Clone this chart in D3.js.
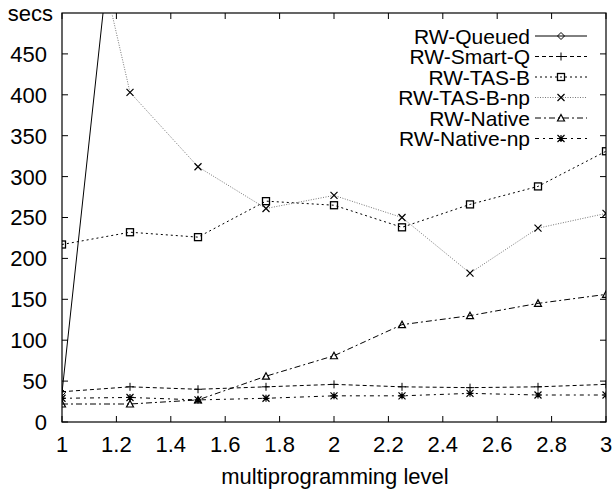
<!DOCTYPE html>
<html lang="en">
<head>
<meta charset="utf-8">
<title>RW locks vs multiprogramming level</title>
<script src="https://d3js.org/d3.v7.min.js"></script>
<style>
body { margin: 0; background: #fff; }
text { font-family: "Liberation Sans", Arial, sans-serif; fill: #000; }
</style>
</head>
<body>
<div id="chart"></div>
<script>

// data (x = multiprogramming level, y = secs)
var levels = [1, 1.25, 1.5, 1.75, 2, 2.25, 2.5, 2.75, 3];
var rwQueued   = [36, 805, null, null, null, null, null, null, null];
var rwSmartQ   = [37, 43, 40, 43, 46, 43, 42, 43, 46];
var rwTasB     = [217, 232, 226, 270, 265, 238, 266, 288, 331];
var rwTasBnp   = [765, 403, 312, 261, 277, 250, 182, 237, 255];
var rwNative   = [22, 22, 27, 56, 81, 119, 130, 145, 156];
var rwNativeNp = [29, 30, 27, 29, 32, 32, 35, 33, 33];

var xTicks = [1, 1.2, 1.4, 1.6, 1.8, 2, 2.2, 2.4, 2.6, 2.8, 3];
var yTicks = [0, 50, 100, 150, 200, 250, 300, 350, 400, 450];

var series = [
  {name: "RW-Queued",    vals: rwQueued,   dash: null,        color: "#000", mark: "diamond"},
  {name: "RW-Smart-Q",   vals: rwSmartQ,   dash: "4,3",       color: "#000", mark: "plus"},
  {name: "RW-TAS-B",     vals: rwTasB,     dash: "2,3",       color: "#000", mark: "square"},
  {name: "RW-TAS-B-np",  vals: rwTasBnp,   dash: "1,1.5",     color: "#777", mark: "cross"},
  {name: "RW-Native",    vals: rwNative,   dash: "6,3,2,3",   color: "#000", mark: "triangle"},
  {name: "RW-Native-np", vals: rwNativeNp, dash: "4,4,2,4",   color: "#000", mark: "star"}
];

var W = 615, H = 489;
var margin = {top: 13, right: 9, bottom: 67, left: 62};
var width = W - margin.left - margin.right,
    height = H - margin.top - margin.bottom;

var svg = d3.select("#chart").append("svg")
  .attr("width", W).attr("height", H);

var g = svg.append("g")
  .attr("transform", "translate(" + margin.left + "," + margin.top + ")");

var x = d3.scaleLinear().domain([1, 3]).range([0, width]);
var y = d3.scaleLinear().domain([0, 500]).range([height, 0]);

g.append("clipPath").attr("id", "plotclip")
  .append("rect").attr("width", width).attr("height", height);

// ticks (inside, on all four sides like gnuplot)
var tk = 6;
xTicks.forEach(function(t) {
  g.append("line").attr("x1", x(t)).attr("x2", x(t)).attr("y1", height).attr("y2", height - tk)
    .attr("stroke", "#000");
  g.append("line").attr("x1", x(t)).attr("x2", x(t)).attr("y1", 0).attr("y2", tk)
    .attr("stroke", "#000");
  g.append("text").attr("x", x(t)).attr("y", height + 30)
    .attr("text-anchor", "middle").style("font-size", "22px").text(t);
});
yTicks.forEach(function(t) {
  g.append("line").attr("x1", 0).attr("x2", tk).attr("y1", y(t)).attr("y2", y(t))
    .attr("stroke", "#000");
  g.append("line").attr("x1", width).attr("x2", width - tk).attr("y1", y(t)).attr("y2", y(t))
    .attr("stroke", "#000");
  g.append("text").attr("x", -15).attr("y", y(t)).attr("dy", "0.36em")
    .attr("text-anchor", "end").style("font-size", "22px").text(t);
});

g.append("text").attr("x", -9).attr("y", 0).attr("dy", "0.36em")
  .attr("text-anchor", "end").style("font-size", "22px").text("secs");

g.append("text").attr("x", width / 2 + 1).attr("y", height + 62)
  .attr("text-anchor", "middle").style("font-size", "22px").text("multiprogramming level");

// frame
g.append("rect").attr("width", width).attr("height", height)
  .attr("fill", "none").attr("stroke", "#000").attr("stroke-width", 1.2);

function marker(sel, type, cx, cy, color) {
  var s = 3.5;
  if (type === "diamond") {
    sel.append("path").attr("d", "M" + cx + "," + (cy - s) + "L" + (cx + s) + "," + cy +
      "L" + cx + "," + (cy + s) + "L" + (cx - s) + "," + cy + "Z")
      .attr("fill", "none").attr("stroke", color);
  } else if (type === "plus") {
    sel.append("path").attr("d", "M" + (cx - s - 0.5) + "," + cy + "H" + (cx + s + 0.5) +
      "M" + cx + "," + (cy - s - 0.5) + "V" + (cy + s + 0.5))
      .attr("stroke", color);
  } else if (type === "square") {
    sel.append("rect").attr("x", cx - s).attr("y", cy - s).attr("width", 2 * s).attr("height", 2 * s)
      .attr("fill", "none").attr("stroke", color).attr("stroke-width", 1.3);
  } else if (type === "cross") {
    sel.append("path").attr("d", "M" + (cx - s) + "," + (cy - s) + "L" + (cx + s) + "," + (cy + s) +
      "M" + (cx - s) + "," + (cy + s) + "L" + (cx + s) + "," + (cy - s))
      .attr("stroke", "#000").attr("stroke-width", 1.2);
  } else if (type === "triangle") {
    sel.append("path").attr("d", "M" + cx + "," + (cy - s) + "L" + (cx + s) + "," + (cy + s - 0.5) +
      "L" + (cx - s) + "," + (cy + s - 0.5) + "Z")
      .attr("fill", "none").attr("stroke", color).attr("stroke-width", 1.2);
  } else if (type === "star") {
    sel.append("path").attr("d", "M" + (cx - s) + "," + (cy - s) + "L" + (cx + s) + "," + (cy + s) +
      "M" + (cx - s) + "," + (cy + s) + "L" + (cx + s) + "," + (cy - s) +
      "M" + (cx - s) + "," + cy + "H" + (cx + s) + "M" + cx + "," + (cy - s) + "V" + (cy + s))
      .attr("stroke", color).attr("stroke-width", 1.2);
  }
}

var plot = g.append("g").attr("clip-path", "url(#plotclip)");

var line = d3.line()
  .defined(function(d) { return d[1] != null; })
  .x(function(d) { return x(d[0]); })
  .y(function(d) { return y(d[1]); });

series.forEach(function(s) {
  var pts = levels.map(function(l, i) { return [l, s.vals[i]]; });
  plot.append("path").datum(pts)
    .attr("d", line)
    .attr("fill", "none")
    .attr("stroke", s.color)
    .attr("stroke-width", 1)
    .attr("stroke-dasharray", s.dash);
  var mg = plot.append("g");
  pts.filter(function(p) { return p[1] != null; }).forEach(function(p) {
    marker(mg, s.mark, x(p[0]), y(p[1]), "#000");
  });
});

// legend: 21px text keeps the boxes from touching at the 20.5px row pitch
var leg = svg.append("g");
series.forEach(function(s, i) {
  var ly = 36 + i * 20.5;
  leg.append("text").attr("x", 530).attr("y", ly).attr("dy", "0.36em")
    .attr("text-anchor", "end").style("font-size", "21px").text(s.name);
  leg.append("line").attr("x1", 535).attr("x2", 587).attr("y1", ly).attr("y2", ly)
    .attr("stroke", s.color).attr("stroke-dasharray", s.dash);
  marker(leg, s.mark, 561, ly, "#000");
});

</script>
</body>
</html>
